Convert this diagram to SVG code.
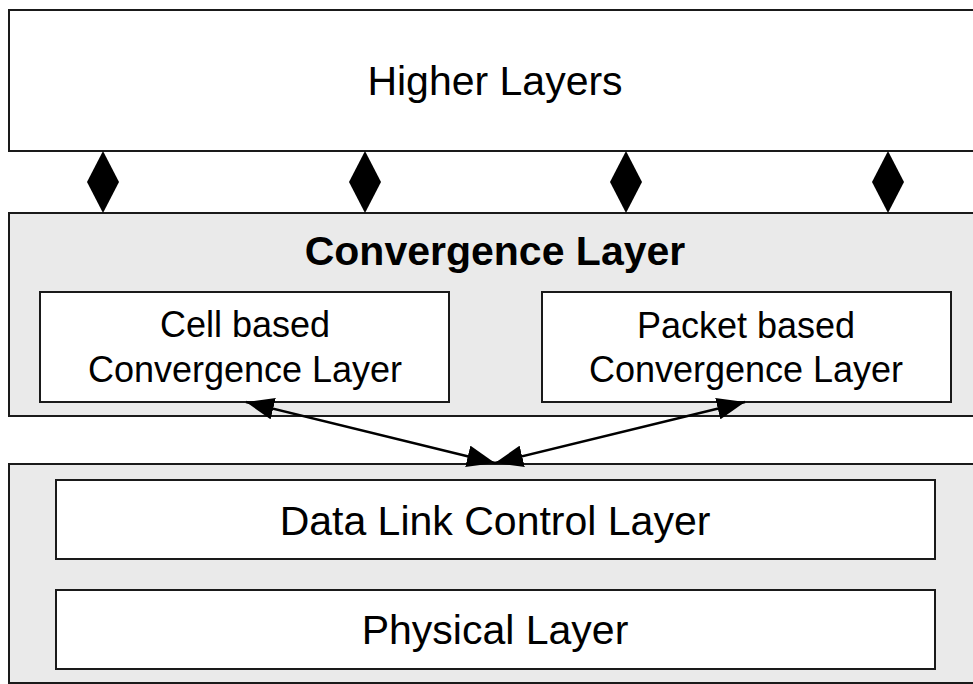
<svg xmlns="http://www.w3.org/2000/svg" width="973" height="684" viewBox="0 0 973 684">
<style>
.box{stroke:#1a1a1a;stroke-width:2}
.outer{fill:#eaeaea}
.inner{fill:#ffffff}
.t{font-family:"Liberation Sans",Arial,sans-serif;fill:#000;text-anchor:middle}
.big{font-size:41px}
.bold{font-size:41px;font-weight:bold}
.mid{font-size:36px}
.dia{fill:#000}
.conn{stroke:#000;stroke-width:2.5;fill:none}
</style>
<defs>
<marker id="arr" viewBox="0 0 28 22" refX="28" refY="11" markerWidth="28" markerHeight="22" markerUnits="userSpaceOnUse" orient="auto-start-reverse">
<path d="M0,0 L28,11 L0,22 Z" fill="#000"/>
</marker>
</defs>
<g id="higher-layers">
<rect class="box inner" x="9" y="10" width="980" height="141"/>
<text class="t big" x="495" y="95">Higher Layers</text>
</g>
<g id="convergence-layer">
<rect class="box outer" x="9" y="213" width="980" height="203"/>
<text class="t bold" x="495" y="265">Convergence Layer</text>
</g>
<g id="cell-based">
<rect class="box inner" x="40" y="292" width="409" height="110"/>
<text class="t mid" x="245" y="337">Cell based</text>
<text class="t mid" x="245" y="382">Convergence Layer</text>
</g>
<g id="packet-based">
<rect class="box inner" x="542" y="292" width="409" height="110"/>
<text class="t mid" x="746" y="338">Packet based</text>
<text class="t mid" x="746" y="382">Convergence Layer</text>
</g>
<g id="lower-layers">
<rect class="box outer" x="9" y="464" width="980" height="219"/>
</g>
<g id="data-link-control">
<rect class="box inner" x="56" y="480" width="879" height="79"/>
<text class="t big" x="495" y="535">Data Link Control Layer</text>
</g>
<g id="physical-layer">
<rect class="box inner" x="56" y="590" width="879" height="79"/>
<text class="t big" x="495" y="644">Physical Layer</text>
</g>
<g id="connectors">
<path class="dia" d="M103,151 L119,182 L103,213 L87,182 Z"/>
<path class="dia" d="M365,151 L381,182 L365,213 L349,182 Z"/>
<path class="dia" d="M626,151 L642,182 L626,213 L610,182 Z"/>
<path class="dia" d="M888,151 L904,182 L888,213 L872,182 Z"/>
<line class="conn" x1="246" y1="402" x2="495" y2="463" marker-start="url(#arr)" marker-end="url(#arr)"/>
<line class="conn" x1="745" y1="402" x2="495" y2="463" marker-start="url(#arr)" marker-end="url(#arr)"/>
</g>
</svg>
